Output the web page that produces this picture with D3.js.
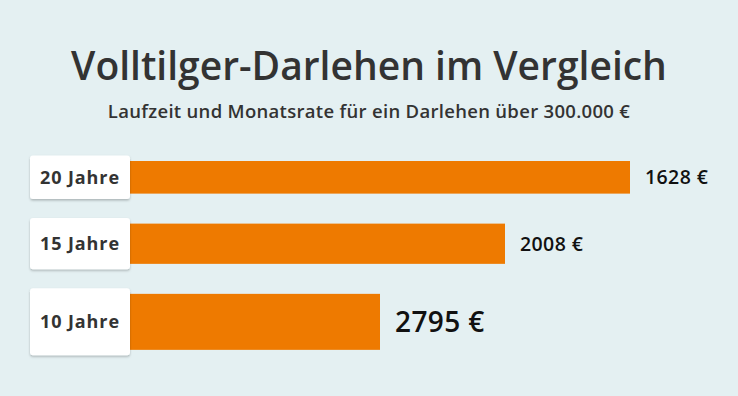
<!DOCTYPE html>
<html>
<head>
<meta charset="utf-8">
<script src="https://cdn.jsdelivr.net/npm/d3@7"></script>
<style>
  html, body { margin: 0; padding: 0; background: #e4f0f2; }
  svg { display: block; font-family: "Open Sans", Lato, sans-serif; }
</style>
</head>
<body>
<div id="chart"></div>
<script>
// data
var labels = ["20 Jahre", "15 Jahre", "10 Jahre"];
var years = [20, 15, 10];
var rates = [1628, 2008, 2795];

var width = 738, height = 396;

var svg = d3.select("#chart")
  .append("svg")
  .attr("width", width)
  .attr("height", height);

svg.append("rect")
  .attr("width", width)
  .attr("height", height)
  .attr("fill", "#e4f0f2");

// soft shadow for the label boxes
var filter = svg.append("defs").append("filter")
  .attr("id", "shadow")
  .attr("x", "-20%").attr("y", "-20%")
  .attr("width", "140%").attr("height", "160%");
filter.append("feDropShadow")
  .attr("dx", 0).attr("dy", 1.5)
  .attr("stdDeviation", 1.2)
  .attr("flood-color", "#000")
  .attr("flood-opacity", 0.25);

svg.append("text")
  .attr("x", width / 2)
  .attr("y", 80)
  .attr("text-anchor", "middle")
  .attr("font-size", 39)
  .attr("font-weight", 600)
  .attr("fill", "#333333")
  .text("Volltilger-Darlehen im Vergleich");

svg.append("text")
  .attr("x", width / 2)
  .attr("y", 118)
  .attr("text-anchor", "middle")
  .attr("font-size", 18.5)
  .attr("font-weight", 600)
  .attr("letter-spacing", 0.3)
  .attr("fill", "#333333")
  .text("Laufzeit und Monatsrate für ein Darlehen über 300.000 €");

// bar length = duration, bar thickness = monthly rate
var x = d3.scaleLinear().domain([0, 20]).range([130, 630]);
var h = d3.scaleLinear().domain([0, 2795]).range([0, 56]);

var gap = 30, startY = 161;
var rows = [];
var yPos = startY;
labels.forEach(function(l, i) {
  var bh = h(rates[i]);
  rows.push({ label: l, years: years[i], rate: rates[i], y: yPos, h: bh });
  yPos += bh + gap;
});

var maxRate = d3.max(rates);

var row = svg.selectAll(".row")
  .data(rows)
  .enter().append("g")
  .attr("class", "row");

row.append("rect")
  .attr("x", x(0))
  .attr("y", function(d) { return d.y; })
  .attr("width", function(d) { return x(d.years) - x(0); })
  .attr("height", function(d) { return d.h; })
  .attr("fill", "#ee7a00");

row.append("rect")
  .attr("x", 30)
  .attr("y", function(d) { return d.y - 5.5; })
  .attr("width", 100)
  .attr("height", function(d) { return d.h + 11; })
  .attr("rx", 3)
  .attr("fill", "#ffffff")
  .attr("filter", "url(#shadow)");

row.append("text")
  .attr("x", 80)
  .attr("y", function(d) { return d.y + d.h / 2; })
  .attr("dy", "0.36em")
  .attr("text-anchor", "middle")
  .attr("font-size", 18)
  .attr("font-weight", 700)
  .attr("letter-spacing", 0.9)
  .attr("fill", "#333333")
  .text(function(d) { return d.label; });

row.append("text")
  .attr("x", function(d) { return x(d.years) + 15; })
  .attr("y", function(d) { return d.y + d.h / 2; })
  .attr("dy", "0.36em")
  .attr("font-size", function(d) { return d.rate === maxRate ? 28 : 19.5; })
  .attr("font-weight", 600)
  .attr("letter-spacing", 0.4)
  .attr("fill", "#111111")
  .text(function(d) { return d.rate + " €"; });
</script>
</body>
</html>
